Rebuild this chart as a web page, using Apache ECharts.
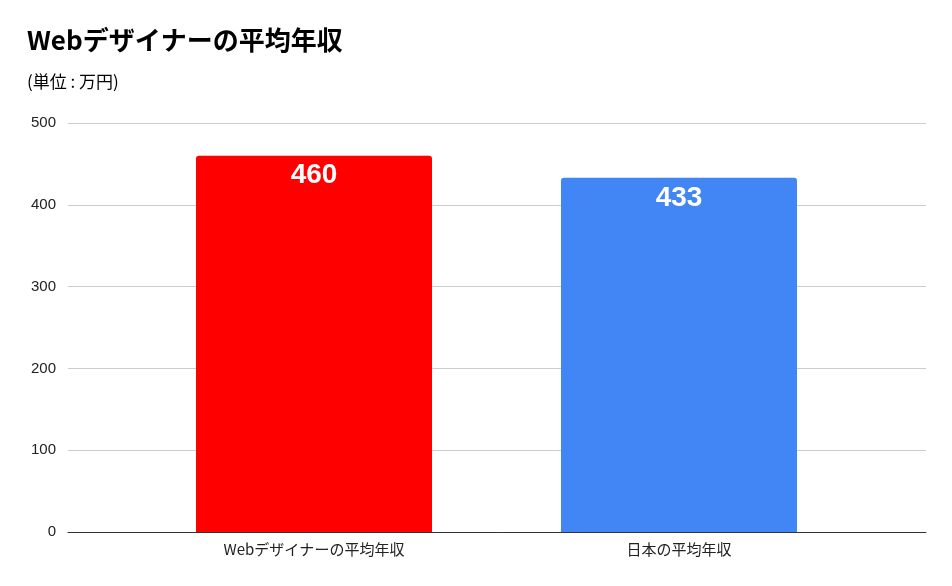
<!DOCTYPE html><html><head><meta charset="utf-8">
<script src="https://cdn.jsdelivr.net/npm/echarts@6/dist/echarts.min.js"></script>
<style>body{margin:0}#c{width:952px;height:586px}</style></head><body><div id="c"></div>
<script>
const categories=['Webデザイナーの平均年収','日本の平均年収'];
const values=[460,433];
const colors=['#ff0000','#4285f4'];
const font='"Noto Sans CJK JP", "Liberation Sans", sans-serif';
const chart=echarts.init(document.getElementById('c'));
chart.setOption({
 animation:false,
 title:[{text:'Webデザイナーの平均年収',left:22,top:22,textStyle:{fontFamily:font,fontSize:26,fontWeight:'bold',color:'#000'}},
  {text:'(単位 : 万円)',left:22,top:68,textStyle:{fontFamily:font,fontSize:17,fontWeight:'normal',color:'#000'}}],
 grid:[{left:68,right:26,top:123,bottom:54},{left:131.5,right:90.5,top:123,bottom:54}],
 xAxis:[{gridIndex:0,type:'category',data:[''],axisTick:{show:false},axisLabel:{show:false},axisLine:{lineStyle:{color:'#333'}}},
  {gridIndex:1,type:'category',data:categories,axisTick:{show:false},axisLine:{show:false},axisLabel:{color:'#222',fontSize:15,fontFamily:font,margin:10}}],
 yAxis:[{gridIndex:0,type:'value',min:0,max:500,interval:100,axisLabel:{color:'#222',fontSize:15,fontFamily:'Liberation Sans',margin:12},splitLine:{lineStyle:{color:'#ccc'}}},
  {gridIndex:1,type:'value',min:0,max:500,interval:100,show:false,splitLine:{show:false}}],
 series:[{type:'bar',xAxisIndex:1,yAxisIndex:1,barWidth:236,
  data:values.map((v,i)=>({value:v,itemStyle:{color:colors[i],borderRadius:[3,3,0,0]}})),
  label:{show:true,position:'insideTop',distance:6,color:'#fff',fontSize:28,fontWeight:'bold',fontFamily:'Liberation Sans'}}]
});
</script></body></html>
